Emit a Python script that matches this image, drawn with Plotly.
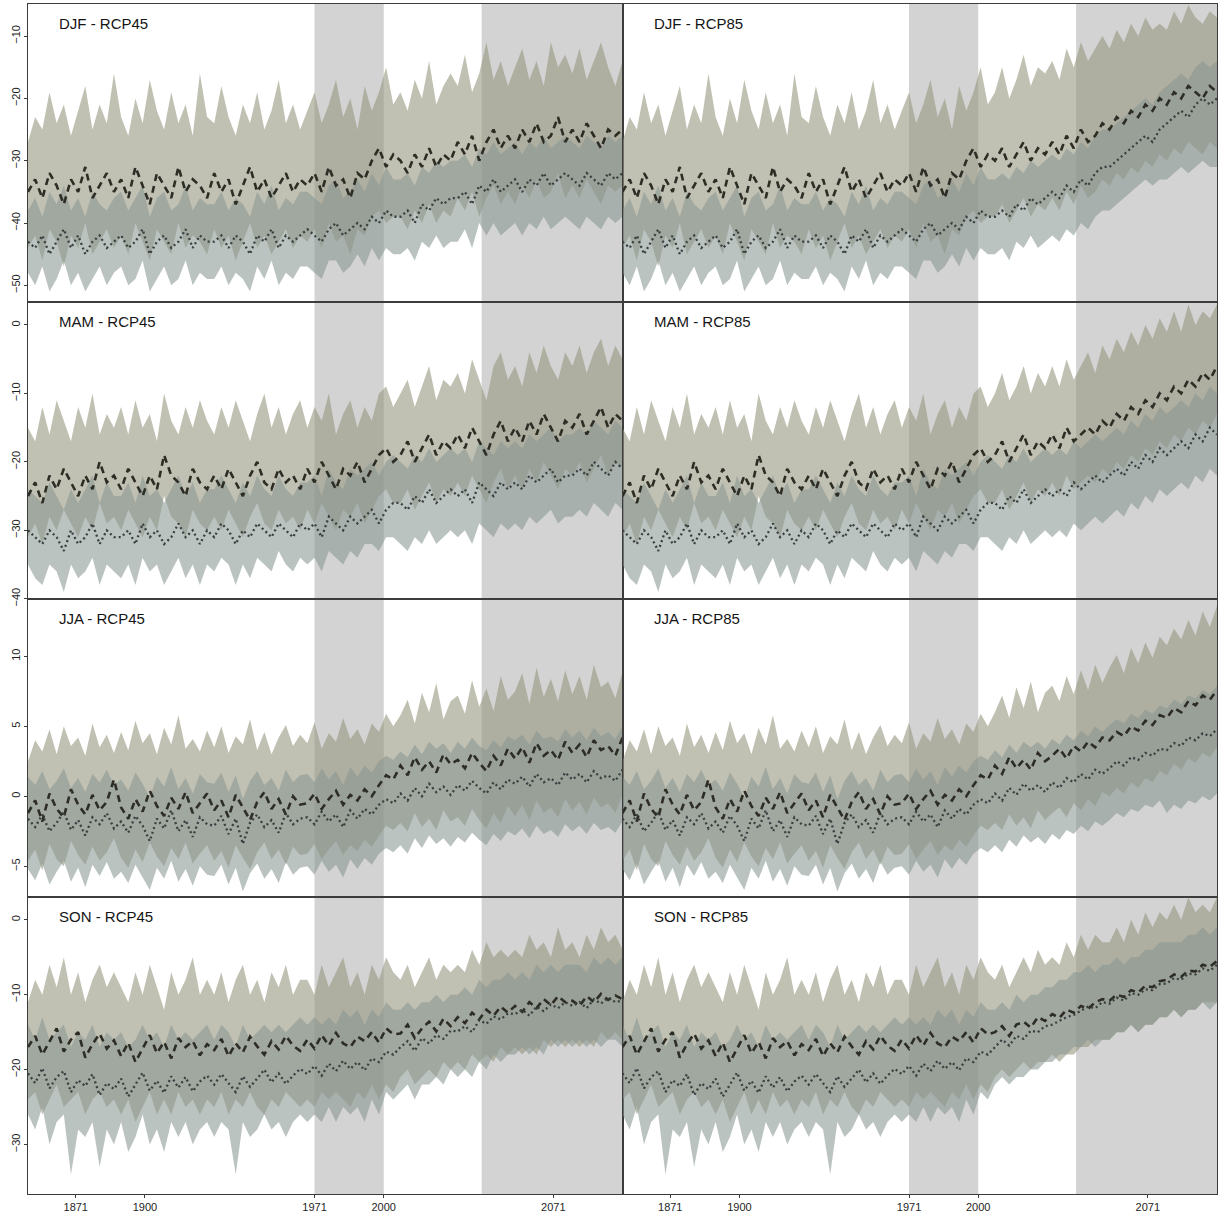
import plotly.graph_objects as go

# ---------------------------------------------------------------------------
# Time axis: values every third year, shared historical run then two scenarios
# ---------------------------------------------------------------------------
YEARS_HIST = list(range(1851, 2005, 3))   # 1851 ... 2004
YEARS_FUT = list(range(2007, 2101, 3))    # 2007 ... 2100
YEARS = YEARS_HIST + YEARS_FUT

SEASONS = ["DJF", "MAM", "JJA", "SON"]
SCENARIOS = ["RCP45", "RCP85"]
X_TICKS = [1871, 1900, 1971, 2000, 2071]
REF_PERIOD = (1971, 2000)
FUT_PERIOD = (2041, 2100)

# ------------------------------- DJF ---------------------------------------
DJF_HIST_S1_MAX = [-27, -23, -25, -19, -24, -21, -26, -22, -18, -25, -21, -24, -16,
                   -23, -26, -20, -24, -17, -22, -25, -19, -24, -21, -26, -16, -23,
                   -24, -18, -23, -26, -21, -24, -19, -25, -22, -17, -24, -21, -25,
                   -22, -19, -24, -21, -17, -23, -20, -25, -18, -22, -19, -15, -21]
DJF_HIST_S1_MEAN = [-35, -33, -36, -32, -34, -37, -33, -35, -31, -36, -34, -32, -35,
                    -33, -36, -31, -34, -37, -32, -34, -36, -31, -35, -33, -34, -36,
                    -32, -35, -33, -37, -34, -31, -35, -33, -36, -34, -32, -35, -33,
                    -34, -32, -35, -31, -34, -33, -36, -32, -33, -30, -28, -31, -29]
DJF_HIST_S1_MIN = [-44, -42, -46, -41, -43, -47, -42, -44, -40, -45, -43, -41, -44,
                   -42, -45, -40, -43, -46, -41, -43, -45, -40, -44, -42, -43, -45,
                   -41, -44, -42, -46, -43, -40, -44, -42, -45, -43, -41, -44, -42,
                   -43, -41, -44, -40, -43, -42, -45, -41, -42, -39, -38, -40, -39]
DJF_HIST_S2_MAX = [-38, -36, -39, -35, -37, -34, -38, -36, -39, -35, -37, -38, -36,
                   -35, -38, -36, -34, -39, -36, -35, -38, -37, -34, -38, -36, -37,
                   -37, -35, -38, -36, -37, -39, -35, -37, -34, -38, -36, -37, -35,
                   -35, -36, -37, -34, -33, -36, -35, -33, -35, -32, -34, -31, -33]
DJF_HIST_S2_MEAN = [-43, -44, -42, -45, -43, -41, -44, -42, -45, -43, -42, -44, -43,
                    -42, -44, -43, -41, -45, -43, -42, -44, -43, -41, -44, -42, -43,
                    -43, -42, -44, -42, -43, -45, -42, -43, -41, -44, -42, -43, -42,
                    -41, -42, -43, -41, -40, -42, -41, -40, -41, -39, -40, -38, -39]
DJF_HIST_S2_MIN = [-48, -50, -47, -51, -49, -46, -50, -48, -51, -49, -47, -50, -48,
                   -47, -50, -49, -46, -51, -49, -47, -50, -49, -46, -50, -48, -49,
                   -49, -47, -50, -48, -49, -51, -47, -49, -46, -50, -48, -49, -47,
                   -47, -48, -49, -46, -46, -48, -47, -45, -47, -44, -46, -44, -45]

DJF_RCP45_S1_MAX = [-19, -22, -17, -20, -14, -21, -18, -16,
                    -18, -13, -19, -16, -11, -17, -14, -18,
                    -15, -12, -17, -14, -18, -11, -15, -13,
                    -16, -12, -17, -14, -11, -15, -18, -14]
DJF_RCP45_S1_MEAN = [-30, -32, -29, -31, -28, -31, -29, -30,
                     -27, -29, -26, -30, -27, -25, -28, -26,
                     -28, -25, -27, -24, -27, -26, -23, -27,
                     -25, -27, -24, -26, -28, -25, -26, -25]
DJF_RCP45_S1_MIN = [-39, -41, -38, -40, -37, -40, -38, -39,
                    -36, -38, -35, -39, -36, -34, -37, -35,
                    -37, -34, -36, -33, -36, -35, -32, -36,
                    -34, -36, -33, -35, -37, -34, -35, -34]
DJF_RCP45_S2_MAX = [-33, -32, -34, -31, -32, -30, -31, -30,
                    -30, -29, -31, -28, -29, -27, -29, -28,
                    -27, -29, -27, -28, -26, -28, -27, -26,
                    -27, -28, -26, -27, -28, -26, -27, -26]
DJF_RCP45_S2_MEAN = [-39, -38, -40, -37, -38, -36, -37, -36,
                     -36, -35, -37, -34, -35, -33, -35, -34,
                     -33, -35, -33, -34, -32, -34, -33, -32,
                     -33, -34, -32, -33, -34, -32, -33, -32]
DJF_RCP45_S2_MIN = [-45, -44, -46, -43, -44, -42, -44, -43,
                    -43, -41, -44, -40, -42, -40, -42, -41,
                    -40, -42, -40, -41, -39, -41, -40, -39,
                    -40, -41, -39, -40, -41, -39, -40, -39]

DJF_RCP85_S1_MAX = [-19, -15, -20, -17, -13, -18, -15, -16,
                    -14, -17, -12, -15, -11, -14, -12, -10,
                    -12, -9, -11, -8, -10, -7, -9, -8,
                    -9, -6, -8, -5, -7, -8, -6, -7]
DJF_RCP85_S1_MEAN = [-30, -28, -31, -29, -27, -30, -28, -29,
                     -27, -29, -26, -28, -25, -27, -26, -24,
                     -25, -23, -24, -22, -23, -21, -22, -20,
                     -21, -19, -20, -18, -19, -20, -18, -19]
DJF_RCP85_S1_MIN = [-39, -37, -40, -38, -36, -39, -37, -38,
                    -36, -38, -35, -37, -34, -36, -35, -33,
                    -34, -32, -33, -31, -32, -30, -31, -29,
                    -30, -28, -29, -27, -28, -29, -27, -28]
DJF_RCP85_S2_MAX = [-33, -32, -33, -31, -32, -30, -31, -30,
                    -29, -30, -28, -29, -27, -28, -26, -25,
                    -25, -24, -23, -22, -21, -20, -21, -19,
                    -18, -17, -16, -17, -15, -14, -15, -14]
DJF_RCP85_S2_MEAN = [-39, -38, -39, -37, -38, -36, -37, -36,
                     -35, -36, -34, -35, -33, -34, -32, -31,
                     -31, -30, -29, -28, -27, -26, -27, -25,
                     -24, -23, -22, -23, -21, -20, -21, -20]
DJF_RCP85_S2_MIN = [-45, -44, -46, -43, -44, -42, -44, -43,
                    -42, -43, -41, -42, -40, -41, -39, -38,
                    -38, -37, -36, -35, -34, -33, -34, -33,
                    -33, -32, -31, -32, -31, -30, -31, -31]

# ------------------------------- MAM ---------------------------------------
MAM_HIST_S1_MAX = [-15, -17, -12, -16, -11, -14, -17, -12, -15, -10, -16, -13, -15,
                   -12, -16, -11, -15, -13, -17, -10, -14, -16, -12, -15, -11, -14,
                   -16, -12, -15, -11, -14, -17, -13, -10, -15, -12, -16, -13, -11,
                   -15, -12, -14, -10, -16, -13, -11, -15, -12, -14, -10, -9, -12]
MAM_HIST_S1_MEAN = [-25, -23, -26, -22, -24, -21, -23, -25, -22, -24, -20, -23, -22,
                    -24, -21, -23, -25, -22, -24, -19, -22, -23, -25, -21, -23, -24,
                    -22, -24, -21, -23, -25, -22, -20, -23, -24, -21, -23, -22, -24,
                    -21, -23, -20, -22, -24, -21, -22, -20, -23, -21, -19, -18, -20]
MAM_HIST_S1_MIN = [-31, -29, -32, -28, -30, -27, -29, -31, -28, -30, -26, -29, -28,
                   -30, -27, -29, -31, -28, -30, -25, -28, -29, -31, -27, -29, -30,
                   -28, -30, -27, -29, -31, -28, -26, -29, -30, -27, -29, -28, -30,
                   -27, -29, -26, -28, -30, -27, -28, -26, -29, -27, -25, -24, -26]
MAM_HIST_S2_MAX = [-24, -25, -26, -23, -25, -27, -24, -26, -24, -22, -26, -23, -25,
                   -25, -23, -26, -22, -25, -24, -26, -24, -22, -25, -23, -26, -24,
                   -24, -22, -24, -26, -23, -25, -22, -24, -25, -22, -24, -25, -23,
                   -23, -22, -25, -21, -23, -24, -21, -22, -21, -20, -22, -20, -19]
MAM_HIST_S2_MEAN = [-30, -31, -32, -30, -31, -33, -30, -32, -31, -29, -32, -30, -31,
                    -31, -30, -32, -29, -31, -30, -32, -31, -29, -31, -30, -32, -30,
                    -31, -29, -30, -32, -30, -31, -29, -30, -31, -29, -30, -31, -29,
                    -30, -29, -31, -28, -29, -30, -28, -29, -28, -27, -29, -27, -26]
MAM_HIST_S2_MIN = [-35, -37, -38, -35, -36, -39, -35, -37, -36, -34, -38, -35, -36,
                   -37, -35, -38, -34, -36, -35, -38, -36, -34, -37, -35, -38, -35,
                   -36, -34, -35, -38, -35, -37, -34, -35, -36, -33, -35, -36, -34,
                   -35, -34, -36, -33, -34, -35, -33, -34, -32, -32, -33, -31, -31]

MAM_RCP45_S1_MAX = [-10, -8, -12, -9, -6, -11, -8, -9,
                    -7, -10, -5, -8, -11, -6, -4, -8,
                    -6, -9, -4, -7, -3, -6, -8, -4,
                    -6, -3, -7, -4, -2, -6, -3, -5]
MAM_RCP45_S1_MEAN = [-19, -17, -20, -18, -16, -19, -17, -18,
                     -16, -18, -15, -17, -19, -16, -14, -17,
                     -15, -17, -14, -16, -13, -15, -17, -14,
                     -15, -13, -16, -14, -12, -15, -13, -14]
MAM_RCP45_S1_MIN = [-26, -24, -27, -25, -23, -26, -24, -25,
                    -23, -25, -22, -24, -26, -23, -21, -24,
                    -22, -24, -21, -23, -20, -22, -24, -21,
                    -22, -20, -23, -21, -19, -22, -20, -21]
MAM_RCP45_S2_MAX = [-20, -21, -19, -20, -18, -20, -19, -18,
                    -19, -18, -20, -17, -18, -19, -17, -18,
                    -17, -18, -16, -17, -16, -15, -17, -16,
                    -16, -15, -16, -14, -15, -16, -14, -15]
MAM_RCP45_S2_MEAN = [-26, -27, -25, -26, -24, -26, -25, -24,
                     -25, -24, -26, -23, -24, -25, -23, -24,
                     -23, -24, -22, -23, -22, -21, -23, -22,
                     -22, -21, -22, -20, -21, -22, -20, -21]
MAM_RCP45_S2_MIN = [-32, -33, -31, -32, -30, -32, -31, -30,
                    -31, -30, -32, -29, -30, -31, -29, -30,
                    -29, -30, -28, -29, -28, -27, -29, -28,
                    -28, -27, -28, -26, -27, -28, -26, -27]

MAM_RCP85_S1_MAX = [-10, -7, -11, -9, -6, -10, -7, -9,
                    -6, -9, -5, -8, -6, -4, -7, -3,
                    -5, -2, -4, -1, -3, 0, -2, 1,
                    -1, 2, -1, 3, 0, 2, 1, 3]
MAM_RCP85_S1_MEAN = [-19, -17, -20, -18, -16, -19, -17, -18,
                     -16, -18, -15, -17, -16, -15, -16, -14,
                     -15, -13, -14, -12, -13, -11, -12, -10,
                     -11, -9, -10, -8, -9, -7, -8, -6]
MAM_RCP85_S1_MIN = [-26, -24, -27, -25, -23, -26, -24, -25,
                    -23, -25, -22, -24, -23, -22, -23, -21,
                    -22, -20, -21, -19, -20, -18, -19, -17,
                    -18, -16, -17, -15, -16, -14, -15, -13]
MAM_RCP85_S2_MAX = [-20, -21, -19, -20, -18, -20, -19, -18,
                    -19, -18, -19, -17, -18, -17, -16, -17,
                    -16, -15, -16, -14, -15, -13, -14, -12,
                    -13, -12, -11, -12, -10, -11, -9, -10]
MAM_RCP85_S2_MEAN = [-26, -27, -25, -26, -24, -26, -25, -24,
                     -25, -24, -25, -23, -24, -23, -22, -23,
                     -22, -21, -22, -20, -21, -19, -20, -18,
                     -19, -18, -17, -18, -16, -17, -15, -16]
MAM_RCP85_S2_MIN = [-32, -33, -31, -32, -30, -32, -31, -30,
                    -31, -30, -31, -29, -30, -29, -28, -29,
                    -28, -27, -28, -26, -27, -25, -26, -24,
                    -25, -24, -23, -24, -22, -23, -21, -22]

# ------------------------------- JJA ---------------------------------------
JJA_HIST_S1_MAX = [2.5, 4.0, 3.2, 4.8, 3.0, 5.0, 3.6, 4.2, 2.9, 5.2, 3.5, 4.4, 3.1,
                   4.6, 3.3, 5.4, 3.8, 4.5, 3.0, 4.9, 3.7, 5.8, 3.4, 4.1, 3.2, 4.7,
                   3.5, 5.0, 3.1, 4.3, 3.7, 5.5, 3.3, 4.6, 3.0, 4.2, 5.1, 3.6, 4.4,
                   3.8, 5.3, 3.4, 4.5, 3.9, 5.6, 4.1, 4.8, 3.7, 5.2, 4.6, 5.9, 5.0]
JJA_HIST_S1_MEAN = [-1.2, -0.3, -1.8, 0.2, -0.9, -1.5, 0.5, -0.6, -1.3, 0.1, -1.0, -0.4, 1.2,
                    -0.8, -1.6, -0.2, -1.1, 0.4, -0.7, -1.4, -0.1, -0.9, 0.3, -1.2, -0.5, 0.2,
                    -1.0, -0.3, -1.5, 0.1, -0.8, -1.7, -0.4, 0.3, -0.9, -0.2, -1.3, 0.0, -0.6,
                    -0.5, 0.2, -0.9, -0.2, 0.4, -0.6, 0.1, -0.3, 0.5, 0.0, 0.8, 1.5, 1.2]
JJA_HIST_S1_MIN = [-4.6, -3.8, -5.3, -3.4, -4.5, -5.0, -3.2, -4.2, -4.9, -3.6, -4.6, -4.0, -3.0,
                   -4.4, -5.1, -3.8, -4.7, -3.3, -4.3, -5.0, -3.7, -4.5, -3.3, -4.8, -4.1, -3.5,
                   -4.6, -3.9, -5.1, -3.5, -4.4, -5.2, -4.0, -3.3, -4.5, -3.8, -4.9, -3.6, -4.2,
                   -4.1, -3.4, -4.5, -3.8, -3.2, -4.2, -3.5, -3.9, -3.1, -3.6, -2.8, -2.1, -2.4]
JJA_HIST_S2_MAX = [1.4, 0.8, 1.8, 0.5, 1.1, 2.0, 0.6, 1.3, 0.3, 1.6, 1.0, 1.9, 0.8,
                   1.2, 0.4, 1.7, 0.9, -0.1, 1.4, 0.7, 2.1, 0.5, 1.3, 0.2, 1.6, 1.0,
                   0.9, 1.7, 0.3, 1.5, -0.2, 1.1, 1.8, 0.8, 1.3, 0.4, 1.9, 1.0, 1.5,
                   1.6, 1.0, 2.0, 1.2, 1.8, 0.8, 2.1, 1.4, 2.2, 1.7, 2.5, 2.9, 2.6]
JJA_HIST_S2_MEAN = [-1.6, -2.2, -1.3, -2.5, -1.9, -1.1, -2.4, -1.7, -2.8, -1.5, -2.0, -1.2, -2.3,
                    -1.8, -2.6, -1.4, -2.1, -3.2, -1.6, -2.3, -1.0, -2.5, -1.7, -2.9, -1.5, -2.0,
                    -2.1, -1.4, -2.7, -1.6, -3.4, -1.9, -1.3, -2.2, -1.7, -2.6, -1.2, -2.0, -1.6,
                    -1.5, -2.0, -1.1, -1.8, -1.3, -2.2, -1.0, -1.6, -0.9, -1.3, -0.6, -0.2, -0.5]
JJA_HIST_S2_MIN = [-5.2, -6.0, -4.8, -6.3, -5.4, -4.6, -6.1, -5.1, -6.5, -4.9, -5.7, -4.7, -5.9,
                   -5.4, -6.2, -4.9, -5.8, -6.7, -5.1, -5.9, -4.6, -6.1, -5.2, -6.4, -5.0, -5.6,
                   -5.7, -4.9, -6.3, -5.1, -6.8, -5.5, -4.8, -5.9, -5.2, -6.2, -4.7, -5.6, -5.1,
                   -5.0, -5.6, -4.6, -5.4, -4.9, -5.8, -4.5, -5.2, -4.4, -4.9, -4.1, -3.7, -4.0]

JJA_RCP45_S1_MAX = [5.8, 6.9, 5.2, 7.4, 6.0, 8.1, 5.5, 6.8,
                    7.2, 5.9, 8.3, 6.4, 7.7, 6.1, 8.6, 6.9,
                    7.5, 8.8, 6.6, 9.2, 7.1, 8.4, 6.8, 9.0,
                    7.3, 8.6, 6.9, 9.4, 7.8, 8.2, 7.0, 8.9]
JJA_RCP45_S1_MEAN = [2.2, 1.5, 2.8, 1.9, 2.5, 1.7, 3.0, 2.3,
                     2.6, 2.0, 3.1, 2.4, 1.8, 2.9, 2.2, 3.4,
                     2.7, 3.5, 2.4, 3.8, 2.9, 3.3, 2.6, 3.9,
                     3.1, 3.7, 2.8, 4.0, 3.3, 3.6, 2.9, 4.2]
JJA_RCP45_S1_MIN = [-1.9, -2.5, -1.2, -2.2, -1.6, -2.4, -1.0, -1.8,
                    -1.5, -2.1, -0.9, -1.7, -2.3, -1.2, -1.9, -0.7,
                    -1.4, -0.6, -1.7, -0.3, -1.2, -0.8, -1.5, -0.2,
                    -1.0, -0.4, -1.3, -0.1, -0.8, -0.5, -1.2, 0.1]
JJA_RCP45_S2_MAX = [3.2, 2.8, 3.7, 3.0, 3.9, 3.4, 3.8, 3.1,
                    3.9, 3.4, 4.2, 3.6, 3.3, 4.0, 3.5, 4.3,
                    4.0, 4.4, 3.7, 4.7, 4.1, 4.3, 3.9, 4.8,
                    4.2, 4.7, 4.0, 4.9, 4.3, 4.6, 4.1, 5.0]
JJA_RCP45_S2_MEAN = [0.2, -0.3, 0.6, 0.0, 0.9, 0.3, 0.7, 0.1,
                     0.8, 0.4, 1.1, 0.6, 0.2, 1.0, 0.5, 1.2,
                     0.9, 1.4, 0.7, 1.6, 1.0, 1.3, 0.8, 1.7,
                     1.2, 1.6, 1.0, 1.8, 1.3, 1.5, 1.1, 1.9]
JJA_RCP45_S2_MIN = [-3.5, -4.1, -3.0, -3.7, -2.8, -3.4, -3.0, -3.6,
                    -2.9, -3.3, -2.6, -3.1, -3.5, -2.7, -3.2, -2.5,
                    -2.8, -2.3, -3.0, -2.1, -2.7, -2.4, -2.9, -2.0,
                    -2.5, -2.1, -2.7, -1.9, -2.4, -2.2, -2.6, -1.8]

JJA_RCP85_S1_MAX = [6.0, 7.2, 5.6, 7.8, 6.3, 8.2, 6.0, 7.4,
                    7.9, 6.8, 8.6, 7.3, 9.0, 7.6, 9.4, 8.1,
                    9.2, 10.1, 8.8, 10.6, 9.5, 11.0, 9.9, 11.4,
                    10.8, 12.0, 11.2, 12.6, 11.5, 13.2, 12.1, 13.6]
JJA_RCP85_S1_MEAN = [2.2, 1.6, 2.8, 2.0, 2.6, 1.9, 3.1, 2.5,
                     2.9, 3.4, 2.7, 3.6, 3.2, 3.9, 3.5, 4.2,
                     4.0, 4.6, 4.3, 5.0, 4.7, 5.4, 5.1, 5.8,
                     5.6, 6.3, 6.0, 6.8, 6.5, 7.2, 6.9, 7.6]
JJA_RCP85_S1_MIN = [-1.9, -2.4, -1.3, -2.1, -1.5, -2.3, -1.0, -1.7,
                    -1.2, -0.8, -1.5, -0.5, -1.0, -0.2, -0.7, 0.3,
                    0.0, 0.6, 0.2, 1.0, 0.6, 1.3, 1.0, 1.8,
                    1.5, 2.3, 1.9, 2.7, 2.4, 3.1, 2.8, 3.5]
JJA_RCP85_S2_MAX = [3.3, 2.8, 3.7, 3.1, 3.9, 3.5, 3.9, 3.4,
                    4.1, 3.7, 4.4, 4.0, 4.7, 4.3, 5.0, 4.6,
                    5.1, 5.5, 5.2, 5.9, 5.6, 6.2, 5.9, 6.5,
                    6.3, 6.9, 6.6, 7.2, 7.0, 7.6, 7.3, 7.9]
JJA_RCP85_S2_MEAN = [0.2, -0.3, 0.6, 0.1, 0.9, 0.4, 0.8, 0.3,
                     1.0, 0.6, 1.3, 1.0, 1.6, 1.2, 1.9, 1.6,
                     2.0, 2.5, 2.2, 2.8, 2.6, 3.1, 2.9, 3.4,
                     3.3, 3.8, 3.6, 4.2, 4.0, 4.5, 4.3, 4.8]
JJA_RCP85_S2_MIN = [-3.5, -4.0, -3.1, -3.6, -2.8, -3.3, -2.9, -3.4,
                    -2.7, -3.1, -2.4, -2.7, -2.1, -2.5, -1.8, -2.1,
                    -1.7, -1.2, -1.5, -0.9, -1.1, -0.6, -0.8, -0.3,
                    -1.2, -0.6, -0.9, -0.3, -0.5, 0.0, -0.3, 0.2]

# ------------------------------- SON ---------------------------------------
SON_HIST_S1_MAX = [-11, -8, -10, -6, -9, -5, -10, -7, -11, -8, -6, -9, -7,
                   -9, -11, -7, -10, -6, -9, -12, -7, -10, -8, -5, -10, -8,
                   -10, -7, -11, -8, -6, -10, -8, -11, -7, -9, -6, -10, -8,
                   -8, -10, -6, -9, -7, -5, -9, -7, -10, -6, -8, -5, -7]
SON_HIST_S1_MEAN = [-17.0, -15.5, -18.0, -16.2, -14.5, -17.6, -16.0, -15.0, -18.4, -16.6, -15.2, -17.2, -16.1,
                    -18.2, -16.4, -19.0, -17.1, -15.4, -17.8, -16.3, -18.5, -15.8, -17.0, -16.2, -18.1, -16.6,
                    -17.4, -15.9, -18.2, -16.5, -17.7, -15.6, -16.9, -18.0, -16.2, -17.3, -15.5, -16.8, -17.5,
                    -16.0, -17.2, -15.4, -16.8, -15.1, -16.5, -17.0, -15.6, -16.2, -15.0, -16.4, -14.5, -15.3]
SON_HIST_S1_MIN = [-24, -23, -26, -24, -22, -25, -24, -23, -26, -24, -23, -25, -24,
                   -26, -24, -27, -25, -23, -26, -24, -26, -23, -25, -24, -26, -24,
                   -25, -23, -26, -24, -25, -23, -25, -26, -24, -25, -23, -24, -25,
                   -24, -25, -23, -24, -23, -24, -25, -23, -24, -22, -24, -22, -23]
SON_HIST_S2_MAX = [-14, -16, -13, -16, -15, -14, -17, -15, -16, -14, -17, -15, -16,
                   -15, -17, -16, -14, -16, -15, -17, -14, -16, -15, -16, -15, -14,
                   -16, -14, -15, -17, -14, -16, -15, -14, -15, -14, -15, -14, -13,
                   -14, -13, -14, -13, -14, -12, -13, -12, -14, -12, -13, -11, -12]
SON_HIST_S2_MEAN = [-20.5, -21.8, -19.8, -22.5, -21.0, -20.2, -23.0, -21.4, -22.2, -20.6, -23.4, -21.8, -22.6,
                    -21.2, -23.6, -22.0, -20.4, -22.8, -21.5, -23.1, -20.9, -22.4, -21.0, -22.9, -21.6, -20.8,
                    -22.0, -20.6, -21.8, -23.0, -20.9, -22.3, -21.2, -20.0, -21.7, -20.5, -21.9, -20.8, -19.9,
                    -20.6, -19.5, -20.8, -19.2, -20.2, -18.8, -19.9, -19.0, -20.1, -18.5, -19.0, -17.6, -18.0]
SON_HIST_S2_MIN = [-26, -28, -25, -30, -27, -26, -34, -28, -29, -27, -33, -28, -30,
                   -27, -31, -29, -26, -30, -28, -31, -27, -29, -27, -30, -28, -27,
                   -29, -27, -28, -34, -27, -29, -28, -26, -28, -27, -29, -27, -26,
                   -27, -26, -27, -25, -27, -25, -26, -25, -27, -24, -26, -23, -24]

SON_RCP45_S1_MAX = [-8, -6, -9, -7, -5, -8, -6, -7,
                    -6, -7, -4, -6, -3, -5, -4, -5,
                    -4, -5, -2, -4, -3, -5, -1, -4,
                    -3, -5, -2, -4, -1, -3, -2, -4]
SON_RCP45_S1_MEAN = [-15.2, -14.0, -15.8, -14.5, -13.6, -14.9, -13.2, -14.2,
                     -13.0, -13.8, -12.4, -13.3, -12.0, -12.8, -11.6, -12.4,
                     -11.5, -12.3, -11.0, -11.8, -10.6, -11.4, -10.2, -11.0,
                     -10.8, -11.5, -10.2, -11.0, -9.9, -10.7, -10.1, -10.6]
SON_RCP45_S1_MIN = [-21, -20, -22, -21, -20, -21, -19, -20,
                    -19, -20, -18, -19, -18, -19, -17, -18,
                    -17, -18, -17, -18, -16, -17, -16, -17,
                    -16, -17, -16, -17, -15, -16, -15, -16]
SON_RCP45_S2_MAX = [-12, -11, -12, -11, -11, -10, -11, -10,
                    -10, -9, -10, -8, -9, -8, -8, -7,
                    -8, -7, -8, -6, -7, -6, -7, -6,
                    -6, -6, -7, -5, -6, -5, -6, -5]
SON_RCP45_S2_MEAN = [-17.0, -16.2, -17.5, -15.8, -16.5, -15.4, -15.9, -14.8,
                     -14.9, -14.2, -15.0, -13.4, -13.9, -12.9, -13.3, -12.5,
                     -12.6, -12.0, -12.8, -11.6, -12.2, -11.3, -11.8, -11.0,
                     -11.5, -11.0, -11.8, -10.6, -11.2, -10.4, -11.0, -10.8]
SON_RCP45_S2_MIN = [-23, -22, -24, -22, -22, -21, -22, -20,
                    -21, -20, -21, -19, -20, -18, -19, -18,
                    -18, -17, -18, -17, -18, -16, -17, -16,
                    -17, -16, -17, -16, -17, -16, -16, -17]

SON_RCP85_S1_MAX = [-8, -6, -9, -7, -5, -7, -4, -6,
                    -5, -6, -3, -5, -2, -4, -2, -3,
                    -3, -1, -3, 0, -2, 1, -1, 1,
                    0, 2, 0, 3, 1, 2, 1, 3]
SON_RCP85_S1_MEAN = [-15.0, -14.2, -15.5, -14.0, -13.6, -14.4, -13.0, -13.5,
                     -12.6, -13.1, -12.0, -12.4, -11.5, -11.9, -11.0, -10.6,
                     -10.8, -10.0, -10.3, -9.4, -9.7, -8.8, -9.0, -8.2,
                     -8.0, -7.3, -7.6, -6.8, -6.9, -6.0, -6.3, -5.5]
SON_RCP85_S1_MIN = [-21, -20, -21, -20, -19, -20, -19, -19,
                    -18, -19, -18, -18, -17, -17, -16, -16,
                    -16, -15, -15, -14, -15, -14, -14, -13,
                    -13, -12, -13, -12, -12, -11, -11, -11]
SON_RCP85_S2_MAX = [-12, -11, -12, -10, -11, -10, -10, -9,
                    -9, -8, -8, -7, -7, -6, -7, -6,
                    -6, -5, -6, -5, -5, -4, -4, -3,
                    -3, -3, -3, -2, -2, -1, -2, -1]
SON_RCP85_S2_MEAN = [-17.0, -16.0, -16.8, -15.5, -15.9, -14.8, -15.0, -14.2,
                     -14.0, -13.5, -13.0, -12.7, -12.2, -11.6, -11.8, -11.0,
                     -11.2, -10.4, -10.8, -9.8, -10.0, -9.3, -9.4, -8.6,
                     -8.5, -7.8, -8.0, -7.2, -7.3, -6.5, -6.8, -6.0]
SON_RCP85_S2_MIN = [-22, -21, -22, -21, -21, -20, -20, -19,
                    -19, -18, -18, -17, -17, -16, -17, -16,
                    -16, -15, -15, -14, -15, -14, -14, -13,
                    -13, -12, -13, -12, -12, -11, -12, -11]

# y-axis ticks for each seasonal row
Y_TICKS = {
    "DJF": [-50, -40, -30, -20, -10],
    "MAM": [-40, -30, -20, -10, 0],
    "JJA": [-5, 0, 5, 10],
    "SON": [-30, -20, -10, 0],
}
Y_RANGES = {
    "DJF": [-52.6, -4.85],
    "MAM": [-40.03, 3.43],
    "JJA": [-7.16, 14.1],
    "SON": [-36.6, 3.1],
}

# ---------------------------------------------------------------------------
G = globals()


def series(season, scen, which, stat):
    hist = G[f"{season}_HIST_{which}_{stat}"]
    fut = G[f"{season}_{scen}_{which}_{stat}"]
    assert len(hist) == len(YEARS_HIST), (season, which, stat, len(hist))
    assert len(fut) == len(YEARS_FUT), (season, scen, which, stat, len(fut))
    return list(hist) + list(fut)


FILL_S1 = "rgba(152,152,129,0.60)"
FILL_S2 = "rgba(136,150,146,0.57)"
LINE_S1 = "#2d2d25"
LINE_S2 = "#3a3f3f"
SHADE = "#d3d3d3"
FRAME = "#3c3c3c"
FONT = "Liberation Sans, Arial, Helvetica, sans-serif"

fig = go.Figure()
layout = {}
shapes = []
annotations = []

for r, season in enumerate(SEASONS):
    for c, scen in enumerate(SCENARIOS):
        k = r * 2 + c + 1
        sfx = "" if k == 1 else str(k)
        xa, ya = f"x{sfx}", f"y{sfx}"

        for which, fillc in (("S1", FILL_S1), ("S2", FILL_S2)):
            hi = series(season, scen, which, "MAX")
            lo = series(season, scen, which, "MIN")
            fig.add_trace(go.Scatter(
                x=YEARS + YEARS[::-1], y=hi + lo[::-1],
                fill="toself", fillcolor=fillc, mode="lines",
                line=dict(width=0), hoverinfo="skip", showlegend=False,
                xaxis=xa, yaxis=ya))

        fig.add_trace(go.Scatter(
            x=YEARS, y=series(season, scen, "S1", "MEAN"), mode="lines",
            line=dict(color=LINE_S1, width=2.6, dash="7px,5px"),
            showlegend=False, xaxis=xa, yaxis=ya))
        fig.add_trace(go.Scatter(
            x=YEARS, y=series(season, scen, "S2", "MEAN"), mode="lines",
            line=dict(color=LINE_S2, width=2.3, dash="2px,3px"),
            showlegend=False, xaxis=xa, yaxis=ya))

        bottom = r == len(SEASONS) - 1
        layout[f"xaxis{sfx}"] = dict(
            domain=[c * 0.5, (c + 1) * 0.5], anchor=ya,
            range=[1851, 2100], showgrid=False, zeroline=False,
            showline=True, mirror=True, linecolor=FRAME, linewidth=1,
            tickvals=X_TICKS if bottom else [],
            ticks="outside" if bottom else "", ticklen=3, tickcolor=FRAME,
            showticklabels=bottom,
            tickfont=dict(family=FONT, size=11, color="#1e1e1e"))
        layout[f"yaxis{sfx}"] = dict(
            domain=[1 - (r + 1) / 4, 1 - r / 4], anchor=xa,
            range=Y_RANGES[season], showgrid=False, zeroline=False,
            showline=True, mirror=True, linecolor=FRAME, linewidth=1,
            tickvals=Y_TICKS[season],
            ticks="outside" if c == 0 else "", ticklen=3, tickcolor=FRAME,
            showticklabels=(c == 0), tickangle=-90,
            tickfont=dict(family=FONT, size=11, color="#1e1e1e"))

        for x0, x1 in (REF_PERIOD, FUT_PERIOD):
            shapes.append(dict(
                type="rect", xref=xa, yref=f"{ya} domain",
                x0=x0, x1=x1, y0=0, y1=1, fillcolor=SHADE,
                line=dict(width=0), layer="below"))

        annotations.append(dict(
            text=f"{season} - {scen}", showarrow=False,
            xref=f"{xa} domain", yref=f"{ya} domain",
            x=0.049, y=0.933, xanchor="left", yanchor="middle",
            font=dict(family=FONT, size=15, color="#151515")))

fig.update_layout(
    width=1220, height=1217,
    margin=dict(l=28, r=3, t=4, b=23),
    paper_bgcolor="white", plot_bgcolor="white",
    shapes=shapes, annotations=annotations,
    **layout)

fig.write_html("out.html")
